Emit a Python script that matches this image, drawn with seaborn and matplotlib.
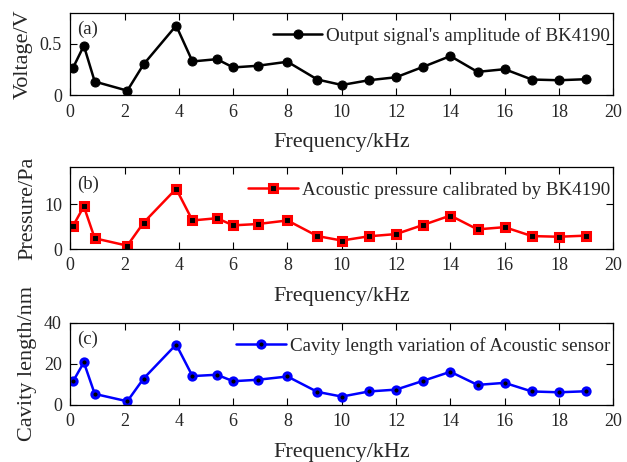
import pandas as pd
import seaborn as sns
import matplotlib
matplotlib.use("Agg")
import matplotlib.pyplot as plt

freq = [0.1, 0.5, 0.9, 2.1, 2.7, 3.9, 4.5, 5.4, 6.0, 6.9, 8.0, 9.1,
        10.0, 11.0, 12.0, 13.0, 14.0, 15.0, 16.0, 17.0, 18.0, 19.0]
voltage = [0.266, 0.48, 0.133, 0.045, 0.30, 0.675, 0.328, 0.35, 0.27, 0.286, 0.325, 0.153,
           0.10, 0.146, 0.175, 0.276, 0.38, 0.227, 0.253, 0.153, 0.146, 0.156]
pressure = [5.15, 9.55, 2.4, 0.75, 5.9, 13.5, 6.4, 6.9, 5.3, 5.6, 6.4, 2.9,
            1.9, 2.85, 3.35, 5.4, 7.5, 4.4, 4.9, 2.9, 2.75, 3.0]
cavity = [11.5, 20.8, 5.4, 1.8, 12.9, 29.5, 14.1, 14.75, 11.6, 12.3, 13.9, 6.4,
          4.1, 6.6, 7.5, 11.8, 16.2, 9.8, 10.8, 6.6, 6.2, 6.7]

df = pd.DataFrame({"freq": freq, "voltage": voltage, "pressure": pressure, "cavity": cavity})

sns.set_style("ticks")
plt.rcParams["font.family"] = ["Liberation Serif", "DejaVu Serif"]

fig = plt.figure(figsize=(6.27, 4.62), dpi=100)

panels = [
    ("voltage", "Voltage/V", "(a)", "Output signal's amplitude of BK4190",
     "black", "o", (0, 0.8), [0, 0.5], ["0", "0.5"], 0.7937, 0.1788),
    ("pressure", "Pressure/Pa", "(b)", "Acoustic pressure calibrated by BK4190",
     "red", "s", (0, 18.3), [0, 10], ["0", "10"], 0.461, 0.1768),
    ("cavity", "Cavity length/nm", "(c)", "Cavity length variation of Acoustic sensor",
     "blue", "o", (0, 40), [0, 20, 40], ["0", "20", "40"], 0.1234, 0.1775),
]

for col, ylab, tag, lab, color, mk, ylim, yt, ytl, bot, h in panels:
    ax = fig.add_axes([0.1121, bot, 0.866, h])
    if color == "black":
        sns.lineplot(data=df, x="freq", y=col, ax=ax, color=color, lw=1.8,
                     marker=mk, markersize=6.5, markerfacecolor=color,
                     markeredgecolor=color, label=lab)
    else:
        sns.lineplot(data=df, x="freq", y=col, ax=ax, color=color, lw=1.8,
                     marker=mk, markersize=5.2, markerfacecolor="black",
                     markeredgecolor=color, markeredgewidth=2.2, label=lab)
    ax.set_xlim(0, 20)
    ax.set_ylim(*ylim)
    ax.set_xticks(range(0, 21, 2))
    ax.set_yticks(yt)
    ax.set_yticklabels(ytl)
    ax.tick_params(which="both", direction="in", top=True, right=True,
                   labelsize=13, length=5, width=0.8, color="black",
                   labelcolor="#262626", pad=6)
    for s in ax.spines.values():
        s.set_linewidth(0.9)
        s.set_color("black")
    ax.set_xlabel("Frequency/kHz", fontsize=16, labelpad=9, color="#262626")
    ax.set_ylabel(ylab, fontsize=16, labelpad=5, color="#262626")
    ax.text(0.012, 0.9, tag, transform=ax.transAxes, fontsize=13.5, va="top", ha="left")
    ax.legend(loc="upper right", frameon=False, fontsize=13.7, handlelength=2.6,
              handletextpad=0.2, borderaxespad=0.0, bbox_to_anchor=(1.008, 0.92))

fig.savefig("out.png", dpi=100)
